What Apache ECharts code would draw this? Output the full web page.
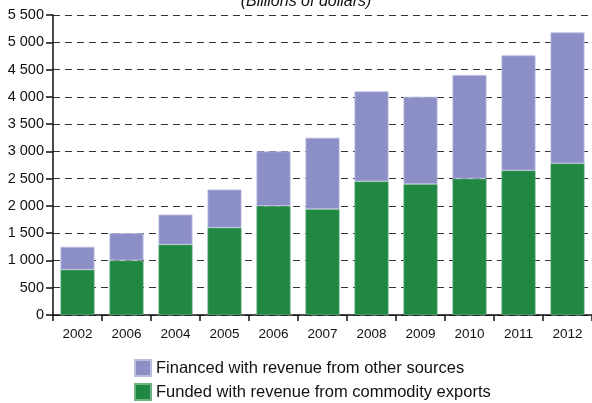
<!DOCTYPE html>
<html>
<head>
<meta charset="utf-8">
<script src="https://cdn.jsdelivr.net/npm/echarts@6/dist/echarts.min.js"></script>
<style>
  html, body { margin: 0; padding: 0; background: #fff; }
  #chart { width: 592px; height: 403px; }
</style>
</head>
<body>
<div id="chart"></div>
<script>
// Years along the category axis
const years = ['2002', '2006', '2004', '2005', '2006', '2007', '2008', '2009', '2010', '2011', '2012'];
// Portion funded with revenue from commodity exports (billions of dollars)
const fromCommodities = [830, 1000, 1290, 1600, 2000, 1940, 2450, 2400, 2500, 2650, 2780];
// Portion financed with revenue from other sources (billions of dollars)
const fromOtherSources = [420, 500, 550, 700, 1000, 1310, 1650, 1600, 1900, 2110, 2400];
// Value axis ticks
const yTicks = [0, 500, 1000, 1500, 2000, 2500, 3000, 3500, 4000, 4500, 5000, 5500];

const seriesNames = ['Financed with revenue from other sources', 'Funded with revenue from commodity exports'];
const purple = '#8b8fc5';
const green = '#208843';

const chart = echarts.init(document.getElementById('chart'));
const fmt = v => String(v).replace(/\B(?=(\d{3})+(?!\d))/g, ' ');

// One legend row per series, stacked vertically under the axis
const legendRow = (name, top) => ({
  left: 134,
  top: top,
  padding: 0,
  itemWidth: 16,
  itemHeight: 16,
  icon: 'rect',
  data: [name],
  textStyle: { fontSize: 16.5, color: '#111' }
});

chart.setOption({
  animation: false,
  textStyle: { fontFamily: 'Liberation Sans, Arial, sans-serif' },
  title: {
    text: '(Billions of dollars)',
    left: 301,
    textAlign: 'center',
    top: -11,
    textStyle: { fontSize: 16, fontStyle: 'italic', fontWeight: 'normal', color: '#111' }
  },
  legend: [legendRow(seriesNames[0], 359), legendRow(seriesNames[1], 383)],
  grid: { left: 53, right: -1, top: 15, bottom: 88, containLabel: false },
  xAxis: {
    type: 'category',
    data: years,
    axisLine: { lineStyle: { color: '#111', width: 1.5 } },
    axisTick: { show: true, length: 6, lineStyle: { color: '#111', width: 1.5 } },
    axisLabel: { color: '#111', fontSize: 13.5, margin: 12 },
    splitLine: { show: false }
  },
  yAxis: {
    type: 'value',
    min: yTicks[0],
    max: yTicks[yTicks.length - 1],
    interval: yTicks[1] - yTicks[0],
    axisLine: { show: true, lineStyle: { color: '#111', width: 1.5 } },
    axisTick: { show: true, length: 7, lineStyle: { color: '#111', width: 1.5 } },
    axisLabel: { color: '#111', fontSize: 14.5, margin: 9, formatter: fmt },
    splitLine: { show: true, lineStyle: { color: '#333', type: [7, 5], width: 1 } }
  },
  series: [
    {
      name: seriesNames[1],
      type: 'bar',
      stack: 'total',
      data: fromCommodities,
      barWidth: 34,
      itemStyle: { color: green, borderColor: '#6fb385', borderWidth: 0.6 }
    },
    {
      name: seriesNames[0],
      type: 'bar',
      stack: 'total',
      data: fromOtherSources,
      barWidth: 34,
      itemStyle: { color: purple, borderColor: '#babde0', borderWidth: 0.8 }
    }
  ]
});
</script>
</body>
</html>
